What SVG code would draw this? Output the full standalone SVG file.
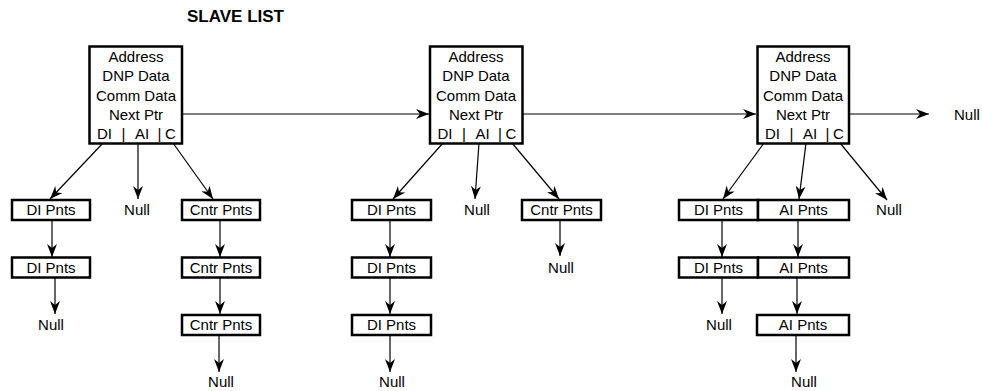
<svg xmlns="http://www.w3.org/2000/svg" width="982" height="391" viewBox="0 0 982 391">
<style>
text{font-family:"Liberation Sans",Arial,sans-serif;font-size:15px;fill:#000}
.c{text-anchor:middle}
.t{font-size:17px;font-weight:bold}
.big{fill:#fff;stroke:#000;stroke-width:2.5}
.sm{fill:#fff;stroke:#000;stroke-width:2.5}
.ln{stroke:#000;stroke-width:1.2;fill:none;marker-end:url(#ah)}
</style>
<defs>
<marker id="ah" markerUnits="userSpaceOnUse" markerWidth="14" markerHeight="10" viewBox="0 0 14 10" refX="13" refY="5" orient="auto">
<path d="M0,0 L13,5 L0,10 L4,5 z" fill="#000"/>
</marker>
</defs>
<rect width="982" height="391" fill="#fff"/>
<text class="t" x="187" y="22">SLAVE LIST</text>

<g id="connectors">
<line class="ln" x1="182" y1="114" x2="429" y2="114"/>
<line class="ln" x1="523" y1="114" x2="756" y2="114"/>
<line class="ln" x1="849" y1="114" x2="929" y2="114"/>

<line class="ln" x1="103" y1="143" x2="50" y2="199"/>
<line class="ln" x1="138" y1="143" x2="138" y2="199"/>
<line class="ln" x1="173" y1="143" x2="213" y2="199"/>
<line class="ln" x1="52" y1="220" x2="52" y2="257"/>
<line class="ln" x1="55" y1="277" x2="55" y2="314"/>
<line class="ln" x1="220" y1="220" x2="220" y2="257"/>
<line class="ln" x1="220" y1="277" x2="220" y2="314"/>
<line class="ln" x1="219" y1="335" x2="219" y2="372"/>

<line class="ln" x1="443" y1="143" x2="393" y2="199"/>
<line class="ln" x1="479" y1="143" x2="475" y2="199"/>
<line class="ln" x1="512" y1="143" x2="559" y2="199"/>
<line class="ln" x1="390" y1="220" x2="390" y2="257"/>
<line class="ln" x1="390" y1="277" x2="390" y2="314"/>
<line class="ln" x1="390" y1="335" x2="390" y2="372"/>
<line class="ln" x1="560" y1="220" x2="560" y2="256"/>

<line class="ln" x1="764" y1="143" x2="723" y2="199"/>
<line class="ln" x1="806" y1="143" x2="799" y2="199"/>
<line class="ln" x1="840" y1="143" x2="887" y2="200"/>
<line class="ln" x1="722" y1="220" x2="722" y2="257"/>
<line class="ln" x1="722" y1="277" x2="722" y2="314"/>
<line class="ln" x1="798" y1="220" x2="798" y2="257"/>
<line class="ln" x1="797" y1="277" x2="797" y2="314"/>
<line class="ln" x1="796" y1="335" x2="796" y2="372"/>
</g>

<g id="slave1">
<rect class="big" x="89.5" y="46.5" width="92.5" height="97"/>
<text class="c" x="136" y="62">Address</text>
<text class="c" x="136" y="81">DNP Data</text>
<text class="c" x="136" y="100.5">Comm Data</text>
<text class="c" x="136" y="120">Next Ptr</text>
<text x="97" y="139">DI</text><text x="121.5" y="139">|</text><text x="135" y="139">AI</text><text x="157.5" y="139">|</text><text x="165" y="139">C</text>
</g>
<g id="slave2">
<rect class="big" x="430" y="46.5" width="92.5" height="97"/>
<text class="c" x="476" y="62">Address</text>
<text class="c" x="476" y="81">DNP Data</text>
<text class="c" x="476" y="100.5">Comm Data</text>
<text class="c" x="476" y="120">Next Ptr</text>
<text x="437.5" y="139">DI</text><text x="462" y="139">|</text><text x="475.5" y="139">AI</text><text x="498" y="139">|</text><text x="505.5" y="139">C</text>
</g>
<g id="slave3">
<rect class="big" x="757.5" y="46.5" width="91.5" height="97"/>
<text class="c" x="803" y="62">Address</text>
<text class="c" x="803" y="81">DNP Data</text>
<text class="c" x="803" y="100.5">Comm Data</text>
<text class="c" x="803" y="120">Next Ptr</text>
<text x="765" y="139">DI</text><text x="789.5" y="139">|</text><text x="803" y="139">AI</text><text x="825.5" y="139">|</text><text x="833" y="139">C</text>
</g>

<g id="s1-di1"><rect class="sm" x="12" y="200" width="78" height="20"/><text class="c" x="51" y="215">DI Pnts</text></g>
<g id="s1-di2"><rect class="sm" x="12" y="257.5" width="78" height="20"/><text class="c" x="51" y="272.5">DI Pnts</text></g>
<g id="s1-null-di"><text class="c" x="51" y="330">Null</text></g>
<g id="s1-null-ai"><text class="c" x="137" y="215">Null</text></g>
<g id="s1-c1"><rect class="sm" x="182" y="200" width="78" height="20"/><text class="c" x="221" y="215">Cntr Pnts</text></g>
<g id="s1-c2"><rect class="sm" x="182" y="257.5" width="78" height="20"/><text class="c" x="221" y="272.5">Cntr Pnts</text></g>
<g id="s1-c3"><rect class="sm" x="182" y="315" width="78" height="20"/><text class="c" x="221" y="330">Cntr Pnts</text></g>
<g id="s1-null-c"><text class="c" x="221" y="387">Null</text></g>

<g id="s2-di1"><rect class="sm" x="352" y="200" width="79" height="20"/><text class="c" x="391.5" y="215">DI Pnts</text></g>
<g id="s2-di2"><rect class="sm" x="352" y="257.5" width="79" height="20"/><text class="c" x="391.5" y="272.5">DI Pnts</text></g>
<g id="s2-di3"><rect class="sm" x="352" y="315" width="79" height="20"/><text class="c" x="391.5" y="330">DI Pnts</text></g>
<g id="s2-null-di"><text class="c" x="392" y="387">Null</text></g>
<g id="s2-null-ai"><text class="c" x="477" y="215">Null</text></g>
<g id="s2-c1"><rect class="sm" x="522" y="200" width="79" height="20"/><text class="c" x="561.5" y="215">Cntr Pnts</text></g>
<g id="s2-null-c"><text class="c" x="561" y="272.5">Null</text></g>

<g id="s3-di1"><rect class="sm" x="679" y="200" width="79" height="20"/><text class="c" x="718.5" y="215">DI Pnts</text></g>
<g id="s3-di2"><rect class="sm" x="679" y="257.5" width="79" height="20"/><text class="c" x="718.5" y="272.5">DI Pnts</text></g>
<g id="s3-null-di"><text class="c" x="719" y="330">Null</text></g>
<g id="s3-ai1"><rect class="sm" x="758" y="200" width="91" height="20"/><text class="c" x="803.5" y="215">AI Pnts</text></g>
<g id="s3-ai2"><rect class="sm" x="758" y="257.5" width="91" height="20"/><text class="c" x="803.5" y="272.5">AI Pnts</text></g>
<g id="s3-ai3"><rect class="sm" x="757" y="315" width="92" height="20"/><text class="c" x="803" y="330">AI Pnts</text></g>
<g id="s3-null-ai"><text class="c" x="804" y="387">Null</text></g>
<g id="s3-null-c"><text class="c" x="889" y="215">Null</text></g>
<g id="s3-null-next"><text x="954" y="120">Null</text></g>
</svg>
